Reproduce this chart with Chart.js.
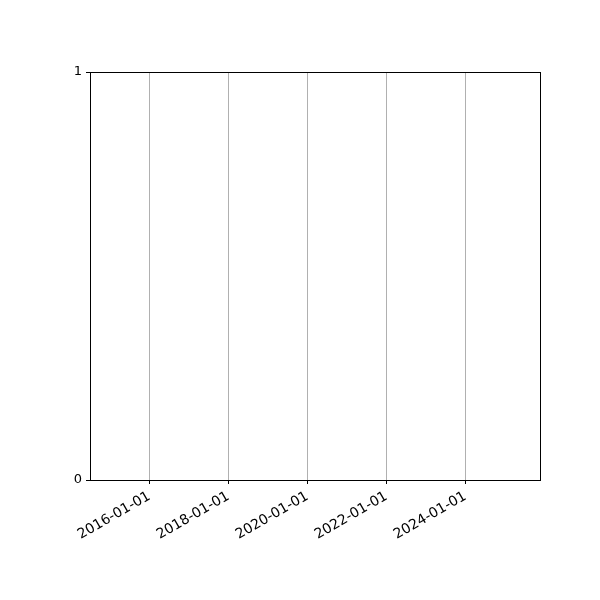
<!DOCTYPE html>
<html>
<head>
<meta charset="utf-8">
<script src="https://cdn.jsdelivr.net/npm/chart.js@4"></script>
<style>
  html, body { margin: 0; padding: 0; background: #fff; }
</style>
</head>
<body>
<canvas id="chart" width="600" height="600"></canvas>
<script>
// axis range and tick labels
const xRange = ['2014-07-01', '2025-11-20'];
const xTickLabels = ['2016-01-01', '2018-01-01', '2020-01-01', '2022-01-01', '2024-01-01'];
const yTicks = [0, 1];
const seriesValues = []; // the plot is empty

const toMs = s => Date.parse(s + 'T00:00:00Z');

// frame round the plot area, like matplotlib's spines
const frame = {
  id: 'frame',
  afterDraw(chart) {
    const a = chart.chartArea, c = chart.ctx;
    c.save();
    c.strokeStyle = '#000';
    c.lineWidth = 1;
    c.strokeRect(Math.round(a.left) + 0.5, Math.round(a.top) + 0.5,
      Math.round(a.right - a.left), Math.round(a.bottom - a.top));
    c.restore();
  }
};

const ctx = document.getElementById('chart');

new Chart(ctx, {
  type: 'scatter',
  data: {
    datasets: [{
      data: seriesValues
    }]
  },
  options: {
    responsive: false,
    animation: false,
    devicePixelRatio: 1,
    layout: { padding: { left: 0, top: 72, right: 60, bottom: 0 } },
    plugins: {
      legend: { display: false },
      tooltip: { enabled: false }
    },
    scales: {
      x: {
        type: 'linear',
        min: toMs(xRange[0]),
        max: toMs(xRange[1]),
        afterBuildTicks(scale) {
          scale.ticks = xTickLabels.map(d => ({ value: toMs(d) }));
        },
        afterFit(scale) { scale.height = 120; },
        border: { display: false },
        grid: {
          color: '#b0b0b0',
          lineWidth: 1,
          tickColor: '#000',
          tickLength: 4
        },
        ticks: {
          color: '#000',
          font: { family: 'DejaVu Sans', size: 14 },
          minRotation: 30,
          maxRotation: 30,
          padding: 4,
          callback: v => new Date(v).toISOString().slice(0, 10)
        }
      },
      y: {
        type: 'linear',
        min: 0,
        max: 1,
        afterBuildTicks(scale) {
          scale.ticks = yTicks.map(v => ({ value: v }));
        },
        afterFit(scale) { scale.width = 90; },
        border: { display: false },
        grid: {
          drawOnChartArea: false,
          tickColor: '#000',
          tickLength: 4
        },
        ticks: {
          color: '#000',
          font: { family: 'DejaVu Sans', size: 13 },
          padding: 4
        }
      }
    }
  },
  plugins: [frame]
});
</script>
</body>
</html>
